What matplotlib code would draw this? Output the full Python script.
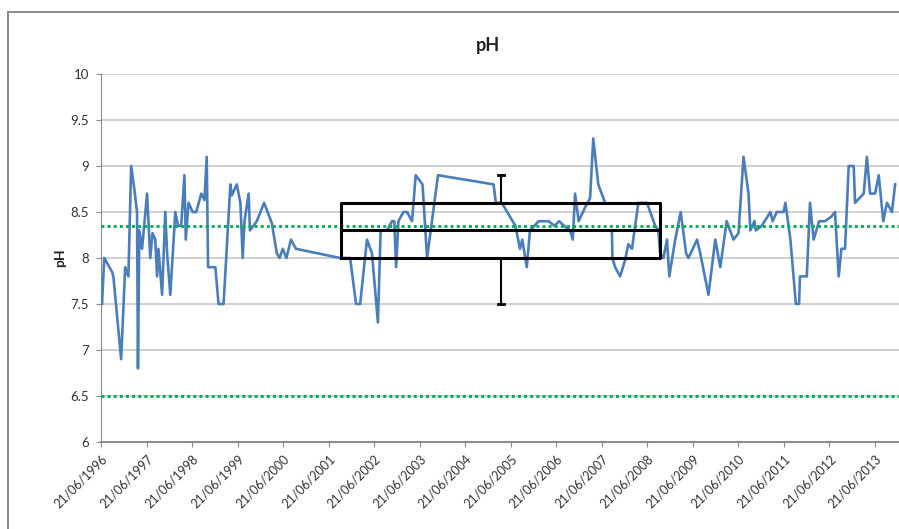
import matplotlib
matplotlib.use("Agg")
import matplotlib.pyplot as plt
from matplotlib.patches import Rectangle
from matplotlib.ticker import FixedLocator, MultipleLocator
import numpy as np

# sample dates as decimal years, pH readings (nan = gap in the record)
years = [
    1996.49, 1996.54, 1996.71, 1996.74, 1996.91, 1997.00, 1997.07, 1997.13, 1997.20, 1997.26,
    1997.28, 1997.31, 1997.37, 1997.48, 1997.55, 1997.60, 1997.66, 1997.70, 1997.73, 1997.81,
    1997.88, 1997.92, 1997.99, 1998.10, 1998.16, 1998.23, 1998.30, 1998.33, 1998.39, 1998.48,
    1998.56, 1998.67, 1998.74, 1998.79, 1998.82, 1998.98, 1999.05, 1999.16, 1999.31, 1999.34,
    1999.45, 1999.53, 1999.58, 1999.62, 1999.71, 1999.74, 1999.89, 2000.05, 2000.22, 2000.33,
    2000.39, 2000.46, 2000.54, 2000.64, 2000.75, 2001.72, 2001.94, 2002.07, 2002.16, 2002.31,
    2002.42, 2002.55, 2002.61, 2002.75, 2002.86, 2002.91, 2002.95, 2003.00, 2003.11, 2003.19,
    2003.30, 2003.38, 2003.53, 2003.63, 2003.87, 2005.09, 2005.14, 2005.27, 2005.57, 2005.67,
    2005.72, 2005.82, 2005.89, 2005.99, 2006.08, 2006.19, 2006.30, 2006.43, 2006.53, 2006.64,
    2006.77, 2006.83, 2006.88, 2006.96, 2007.10, 2007.21, 2007.28, 2007.39, 2007.54, 2007.62,
    2007.69, 2007.70, 2007.76, 2007.87, 2007.98, 2008.05, 2008.13, 2008.27, 2008.46, 2008.64,
    2008.71, 2008.75, 2008.82, 2008.90, 2008.95, 2009.08, 2009.20, 2009.32, 2009.37, 2009.56,
    2009.63, 2009.81, 2009.96, 2010.07, 2010.21, 2010.36, 2010.47, 2010.58, 2010.69, 2010.73,
    2010.82, 2010.85, 2010.98, 2011.17, 2011.22, 2011.31, 2011.46, 2011.50, 2011.61, 2011.73,
    2011.80, 2011.82, 2011.97, 2012.04, 2012.12, 2012.24, 2012.37, 2012.51, 2012.59, 2012.67,
    2012.73, 2012.81, 2012.89, 2013.00, 2013.03, 2013.22, 2013.29, 2013.36, 2013.47, 2013.55,
    2013.65, 2013.73, 2013.84, 2013.91,
]
ph = [
    7.5, 8.0, 7.85, 7.8, 6.9, 7.9, 7.8, 9.0, 8.75, 8.5,
    6.8, 8.3, 8.1, 8.7, 8.0, 8.27, 8.2, 7.8, 8.1, 7.6,
    8.5, 8.05, 7.6, 8.5, 8.35, 8.35, 8.9, 8.2, 8.6, 8.5,
    8.5, 8.7, 8.63, 9.1, 7.9, 7.9, 7.5, 7.5, 8.8, 8.68,
    8.8, 8.6, 8.0, 8.4, 8.7, 8.3, 8.4, 8.6, 8.38, 8.05,
    8.0, 8.1, 8.0, 8.2, 8.1, 8.0, 8.0, 7.5, 7.5, 8.2,
    8.05, 7.3, 8.3, 8.3, 8.4, 8.4, 7.9, 8.4, 8.5, 8.5,
    8.4, 8.9, 8.8, 8.0, 8.9, 8.8, 8.6, 8.6, 8.35, 8.1,
    8.2, 7.9, 8.3, 8.35, 8.4, 8.4, 8.4, 8.35, 8.4, 8.35,
    8.3, 8.2, 8.7, 8.4, 8.55, 8.65, 9.3, 8.8, 8.6, np.nan,
    8.3, 8.0, 7.9, 7.8, 7.98, 8.15, 8.1, 8.6, 8.6, 8.35,
    8.3, 8.05, 8.0, 8.2, 7.8, 8.2, 8.5, 8.05, 8.0, 8.2,
    8.05, 7.6, 8.2, 7.9, 8.4, 8.2, 8.27, 9.1, 8.7, 8.3,
    8.4, 8.3, 8.35, 8.5, 8.4, 8.5, 8.5, 8.6, 8.2, 7.5,
    7.5, 7.8, 7.8, 8.6, 8.2, 8.4, 8.4, 8.45, 8.5, 7.8,
    8.1, 8.1, 9.0, 9.0, 8.6, 8.7, 9.1, 8.7, 8.7, 8.9,
    8.4, 8.6, 8.5, 8.8,
]

# reference limits
upper_limit = 8.35
lower_limit = 6.5

# summary box over the period
box_stats = dict(whislo=7.5, q1=8.0, med=8.3, q3=8.6, whishi=8.9)
box_centre = 2005.25
box_width = 7.0

tick_years = list(range(1996, 2014))
tick_labels = [f"21/06/{y}" for y in tick_years]
tick_offset = 171 / 365.25  # 21 June as a fraction of the year

plt.rcParams["font.family"] = ["Lato", "DejaVu Sans"]

fig = plt.figure(figsize=(8.99, 5.29), dpi=100)
ax = fig.add_axes([101 / 899, 87 / 529, 798 / 899, 368 / 529])

# outer chart frame
fig.patches.append(Rectangle((8 / 899, -0.2), 1.2, 1.2 - 12 / 529,
                             transform=fig.transFigure, fill=False,
                             edgecolor="#8a8a8a", linewidth=1.4))

ax.plot(years, ph, color="#4a7ebb", linewidth=1.9, zorder=3)

for level in (upper_limit, lower_limit):
    ax.axhline(level, color="#00b050", linewidth=2.1, linestyle=(0, (1, 1.1)),
               dash_capstyle="butt", zorder=4)

box_stats["fliers"] = []
ax.bxp([box_stats], positions=[box_centre], widths=[box_width], showfliers=False,
       capwidths=[0.12], manage_ticks=False,
       boxprops=dict(color="black", linewidth=2.2),
       medianprops=dict(color="black", linewidth=2.2),
       whiskerprops=dict(color="black", linewidth=1.5),
       capprops=dict(color="black", linewidth=2.0), zorder=5)

x0 = tick_years[0] + tick_offset
ax.set_xlim(x0, x0 + 798 / 45.53)
ax.set_ylim(6, 10)
ax.yaxis.set_major_locator(MultipleLocator(0.5))
ax.yaxis.set_major_formatter(plt.FuncFormatter(lambda v, p: f"{v:g}"))
ax.xaxis.set_major_locator(FixedLocator([y + tick_offset for y in tick_years]))
ax.set_xticklabels(tick_labels, rotation=45, ha="right", rotation_mode="anchor")

ax.grid(axis="y", color="#c4c4c4", linewidth=1.1, zorder=0)
for side in ("top", "right"):
    ax.spines[side].set_visible(False)
ax.spines["left"].set_color("#8a8a8a")
ax.spines["bottom"].set_color("#8a8a8a")
ax.spines["bottom"].set_linewidth(1.4)
ax.tick_params(axis="both", colors="#8a8a8a", labelcolor="#333333", labelsize=9.5,
               length=3.5, direction="out")
ax.tick_params(axis="x", labelsize=9, pad=4)
ax.tick_params(axis="y", pad=5)

ax.set_ylabel("pH", fontsize=10, fontweight="bold", color="#222222", labelpad=3)
fig.text(488 / 899, 1 - 45 / 529, "pH", ha="center", va="center",
         fontsize=13, fontweight="bold", color="#222222")

fig.savefig("out.png", dpi=100)
